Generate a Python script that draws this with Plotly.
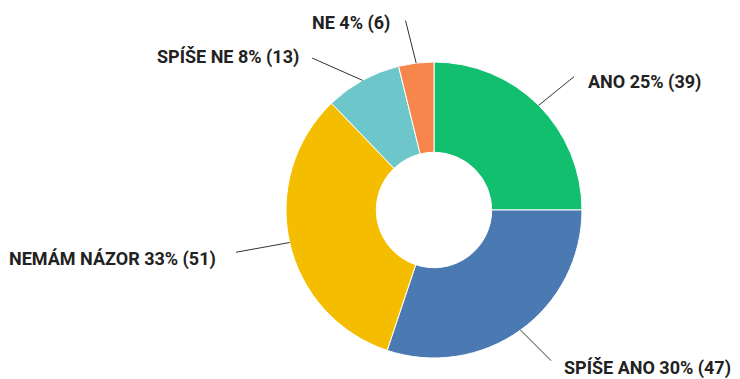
import math
import plotly.graph_objects as go

labels = ["ANO", "SPÍŠE ANO", "NEMÁM NÁZOR", "SPÍŠE NE", "NE"]
values = [39, 47, 51, 13, 6]
percents = [25, 30, 33, 8, 4]
colors = ["#12bf6f", "#4b79b1", "#f5bd00", "#6dc6c9", "#f7864d"]

# style: leader line tail offsets (px) and text offsets (px) relative to slice edge point
line_off = [(37, -30), (32, 32), (-55, 10), (-52, -23), (-11, -44)]
text_off = [(47, -23), (41, 38), (-72, 16), (-62, -23), (-24, -40)]
anchors = ["left", "left", "right", "right", "right"]

W, H = 740, 379
R = 148
cx, cy = 434, 210
mt = cy - R
mb = H - (cy + R)
plot_h = H - mt - mb

fig = go.Figure(go.Pie(
    labels=labels, values=values, hole=0.39, sort=False, direction="clockwise",
    rotation=0, textinfo="none", hoverinfo="label+value+percent",
    marker=dict(colors=colors, line=dict(color="white", width=1)),
    domain=dict(x=[(cx - R) / W, (cx + R) / W], y=[0, 1]),
    showlegend=False,
))

font = dict(family="Roboto, DejaVu Sans Condensed, sans-serif", size=18, color="#222222")

total = sum(values)
cum = 0
annotations = []
for i, v in enumerate(values):
    mid = (cum + v / 2) / total * 2 * math.pi
    cum += v
    px = cx + R * math.sin(mid)
    py = cy - R * math.cos(mid)
    xp = px / W
    yp = (H - mb - py) / plot_h
    annotations.append(dict(
        x=xp, y=yp, xref="paper", yref="paper", text="", showarrow=True,
        arrowhead=0, arrowwidth=1, arrowcolor="#333333",
        ax=line_off[i][0], ay=line_off[i][1], axref="pixel", ayref="pixel",
    ))
    annotations.append(dict(
        x=(px + text_off[i][0]) / W, y=(H - mb - (py + text_off[i][1])) / plot_h,
        xref="paper", yref="paper", showarrow=False,
        text=f"<b>{labels[i]} {percents[i]}% ({v})</b>",
        xanchor=anchors[i], yanchor="middle", font=font,
    ))

fig.update_layout(
    width=W, height=H, margin=dict(l=0, r=0, t=mt, b=mb),
    paper_bgcolor="white", plot_bgcolor="white",
    annotations=annotations,
)
fig.write_html("out.html", config={"displayModeBar": False},
               post_script="document.body.style.margin='0';")
